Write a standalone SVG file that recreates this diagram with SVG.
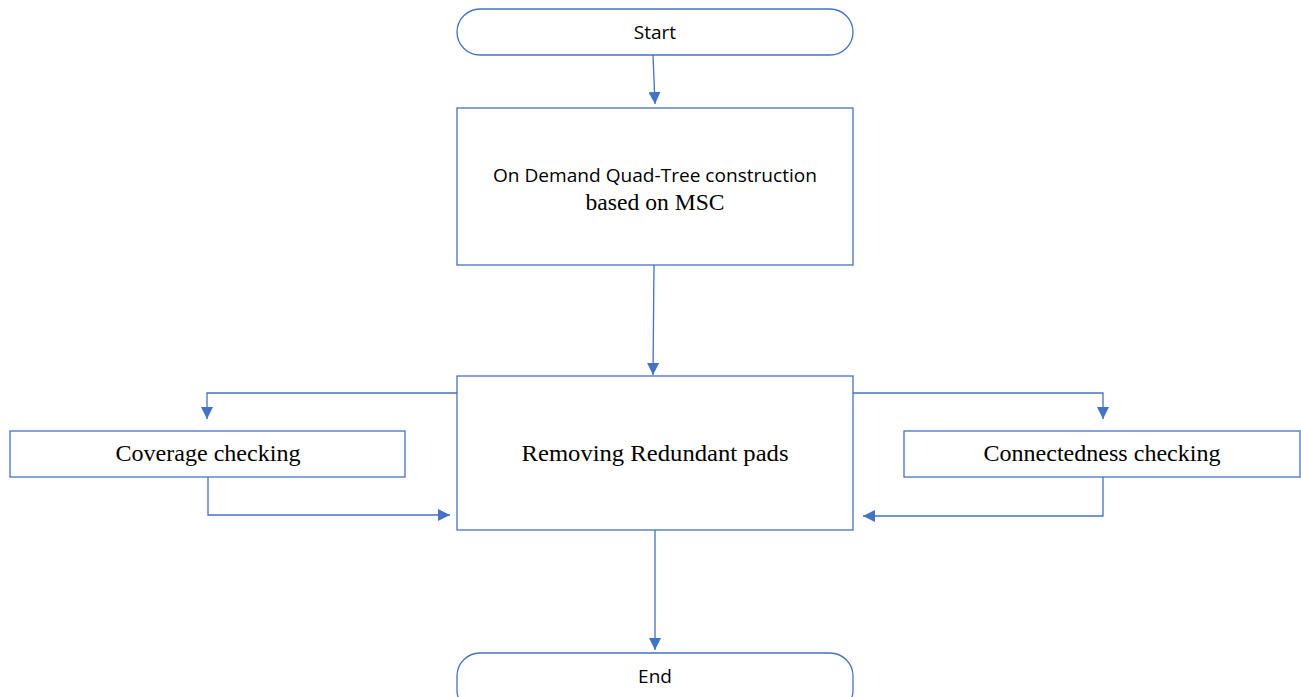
<svg xmlns="http://www.w3.org/2000/svg" width="1301" height="697" viewBox="0 0 1301 697">
<style>
.box{fill:#fff;stroke:#4472C4;stroke-width:1.3}
.c{fill:none;stroke:#4472C4;stroke-width:1.3}
.s{font-family:"Open Sans","Liberation Sans",sans-serif;font-size:19px;fill:#000;text-anchor:middle}
.r{font-family:"Liberation Serif","DejaVu Serif",serif;font-size:23px;fill:#000;text-anchor:middle}
</style>
<defs>
<marker id="ah" viewBox="0 0 12 12" refX="12" refY="6" markerWidth="12" markerHeight="12" markerUnits="userSpaceOnUse" orient="auto">
<path d="M0,0 L12,6 L0,12 z" fill="#4472C4"/>
</marker>
</defs>
<rect width="1301" height="697" fill="#fff"/>
<g id="start"><rect class="box" x="457" y="9" width="396" height="46" rx="23"/><text class="s" x="655" y="39">Start</text></g>
<g id="quad"><rect class="box" x="457" y="108" width="396" height="157"/>
<text class="s" x="655" y="182" textLength="324" lengthAdjust="spacingAndGlyphs">On Demand Quad-Tree construction</text>
<text class="r" x="655" y="210" textLength="139" lengthAdjust="spacingAndGlyphs">based on MSC</text></g>
<g id="remove"><rect class="box" x="457" y="376" width="396" height="154"/><text class="r" x="655" y="461" textLength="267" lengthAdjust="spacingAndGlyphs">Removing Redundant pads</text></g>
<g id="coverage"><rect class="box" x="10" y="431" width="395" height="46"/><text class="r" x="208" y="461" textLength="185" lengthAdjust="spacingAndGlyphs">Coverage checking</text></g>
<g id="connected"><rect class="box" x="904" y="431" width="396" height="46"/><text class="r" x="1102" y="461" textLength="237" lengthAdjust="spacingAndGlyphs">Connectedness checking</text></g>
<g id="end"><rect class="box" x="457" y="653" width="396" height="60" rx="23"/><text class="s" x="655" y="683">End</text></g>
<g id="connectors">
<path class="c" d="M653,55 L655,104" marker-end="url(#ah)"/>
<path class="c" d="M654,265 L653,375" marker-end="url(#ah)"/>
<path class="c" d="M457,393 H207 V419" marker-end="url(#ah)"/>
<path class="c" d="M208,477 V515 H450" marker-end="url(#ah)"/>
<path class="c" d="M853,393 H1103 V419" marker-end="url(#ah)"/>
<path class="c" d="M1103,477 V516 H863" marker-end="url(#ah)"/>
<path class="c" d="M655,530 V650" marker-end="url(#ah)"/>
</g>
</svg>
